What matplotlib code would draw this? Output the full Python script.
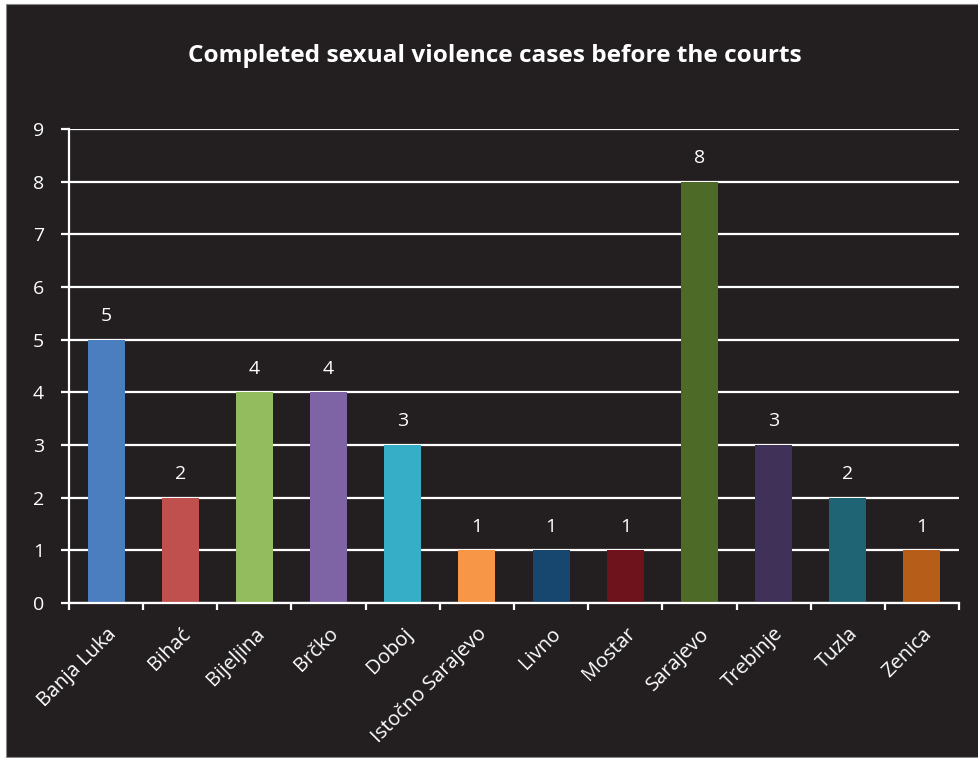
import matplotlib
matplotlib.use("Agg")
import matplotlib.pyplot as plt
from matplotlib.patches import Rectangle

categories = ["Banja Luka", "Bihać", "Bijeljina", "Brčko", "Doboj", "Istočno Sarajevo",
              "Livno", "Mostar", "Sarajevo", "Trebinje", "Tuzla", "Zenica"]
values = [5, 2, 4, 4, 3, 1, 1, 1, 8, 3, 2, 1]
colors = ["#4A7EBF", "#C0504D", "#93BC5E", "#7F64A5", "#36AEC8", "#F79646",
          "#17466F", "#6E131C", "#4E6A27", "#3F3157", "#1F6474", "#B65D19"]
title = "Completed sexual violence cases before the courts"
yticks = list(range(0, 10))

BG = "#231F20"
W, H = 979, 758
fig = plt.figure(figsize=(W / 100, H / 100), dpi=100, facecolor="white")
fig.patches.append(Rectangle((6 / W, 1 - 757 / H), 973 / W, 753 / H,
                             transform=fig.transFigure, facecolor=BG,
                             edgecolor="#888888", linewidth=0.8, zorder=-10))

plt.rcParams["font.family"] = ["Open Sans", "DejaVu Sans"]

ax = fig.add_axes([69 / W, 1 - 603 / H, (959 - 69) / W, (603 - 129) / H])
ax.set_facecolor(BG)
ax.patch.set_alpha(0)

x = list(range(len(categories)))
ax.bar(x, values, width=0.5, color=colors, zorder=3)
ax.set_xlim(-0.5, len(categories) - 0.5)
ax.set_ylim(0, 9)
ax.set_yticks(yticks)
ax.grid(axis="y", color="white", linewidth=1.6, zorder=0)
ax.set_axisbelow(True)

for s in ["top", "right"]:
    ax.spines[s].set_visible(False)
for s in ["left", "bottom"]:
    ax.spines[s].set_color("white")
    ax.spines[s].set_linewidth(1.6)
    ax.spines[s].set_zorder(4)

ax.set_xticks(x)
ax.set_xticklabels(categories, rotation=45, ha="right", rotation_mode="anchor",
                   fontsize=14.5, color="white")
ax.tick_params(axis="x", which="major", length=0, pad=15)
ax.set_xticks([i - 0.5 for i in range(len(categories) + 1)], minor=True)
ax.tick_params(axis="x", which="minor", length=5, width=1.6, color="white", direction="out")
ax.tick_params(axis="y", length=6, width=1.6, color="white", labelcolor="white",
               labelsize=14, pad=12)

for xi, v in zip(x, values):
    ax.annotate(str(v), (xi, v), xytext=(0, 10.5), textcoords="offset points",
                ha="center", va="bottom", color="white", fontsize=14)

fig.text(495 / W, 1 - 56 / H, title, ha="center", va="center",
         color="white", fontsize=17.6, fontweight="bold")

fig.savefig("out.png", dpi=100, facecolor=fig.get_facecolor())
